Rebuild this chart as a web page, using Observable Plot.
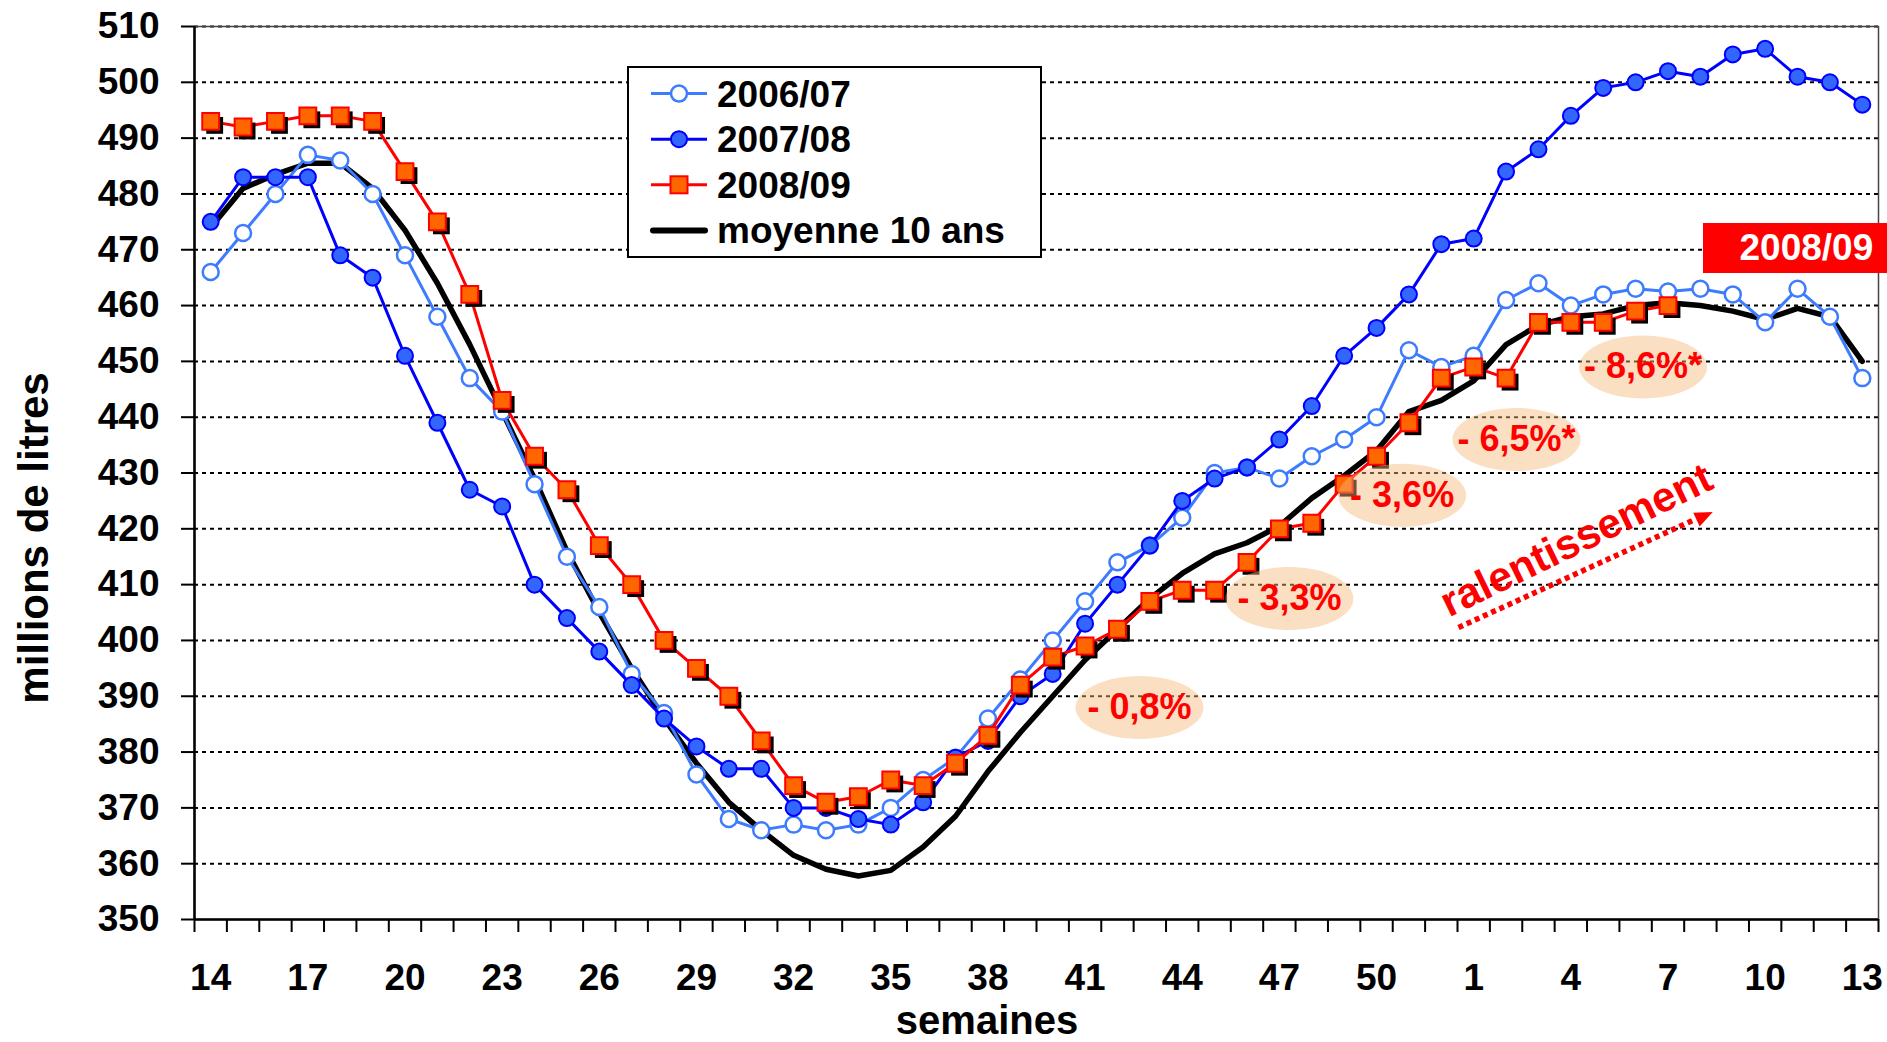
<!DOCTYPE html>
<html>
<head>
<meta charset="utf-8">
<script src="https://cdn.jsdelivr.net/npm/d3@7"></script>
<script src="https://cdn.jsdelivr.net/npm/@observablehq/plot@0.6"></script>
<style>
html, body { margin: 0; padding: 0; background: #fff; overflow: hidden; }
#wrap { position: relative; width: 1887px; height: 1042px; font-family: 'Liberation Sans', Arial, sans-serif; font-weight: bold; }
#wrap svg text { font-weight: bold; }
.abs { position: absolute; white-space: nowrap; }
</style>
</head>
<body>
<div id="wrap"></div>
<script>
// ---- data ----
const weeks = [14,15,16,17,18,19,20,21,22,23,24,25,26,27,28,29,30,31,32,33,34,35,36,37,38,39,40,41,42,43,44,45,46,47,48,49,50,51,52,1,2,3,4,5,6,7,8,9,10,11,12,13];
const s0607 = [466,473,480,487,486,480,469,458,447,441,428,415,406,394,387,376,368,366,367,366,367,370,375,379,386,393,400,407,414,417,422,430,431,429,433,436,440,452,449,451,461,464,460,462,463,462.5,463,462,457,463,458,447];
const s0708 = [475,483,483,483,469,465,451,439,427,424,410,404,398,392,386,381,377,377,370,370,368,367,371,379,382,390,394,403,410,417,425,429,431,436,442,451,456,462,471,472,484,488,494,499,500,502,501,505,506,501,500,496];
const s0809 = [493,492,493,494,494,493,484,475,462,443,433,427,417,410,400,395,390,382,374,371,372,375,374,378,383,392,397,399,402,407,409,409,414,420,421,428,433,439,447,449,447,457,457,457,459,460,null,null,null,null,null,null];
const mean10 = [474,481,483.5,485.5,485.5,481,473.5,464,453,441,429,416,405,395,386,378,371,366,361.5,359,357.8,358.8,363,368.5,376.5,383.5,390,396.5,402,407.5,412,415.5,417.5,420.5,425.5,429.5,434,441,443,446.5,453,456.5,458,458.5,460,460.5,460,459,457.5,459.5,458,450];
const seriesNames = ["2006/07", "2007/08", "2008/09", "moyenne 10 ans"];
const yTicks = [350,360,370,380,390,400,410,420,430,440,450,460,470,480,490,500,510];
const xLabelStep = 3;

// annotations (in data coordinates: week index, volume)
const annotLabels = ["- 0,8%", "- 3,3%", "- 3,6%", "- 6,5%*", "- 8,6%*"];
const annotX = [28.68, 33.31, 36.79, 40.32, 44.23];
const annotY = [388, 407.5, 426, 436, 449];
const slowText = "ralentissement";
const slowX = [42.17];
const slowY = [417.9];
const arrowFrom = [38.53, 402.3];
const arrowTo = [45.8, 421.6];
const arrowHeadAt = [46.08, 422.2];

// ---- build ----
const C0607 = "#3d7bff", C0708 = "#0000ff", F0708 = "#3366ff", C0809 = "#ff0000", F0809 = "#ff6600";
const idx = d3.range(weeks.length);
const toRows = vals => idx.filter(i => vals[i] != null).map(i => ({i, v: vals[i]}));
const d0607 = toRows(s0607), d0708 = toRows(s0708), d0809 = toRows(s0809), dMean = toRows(mean10);
const annots = annotLabels.map((t, k) => ({t, x: annotX[k], y: annotY[k]}));
const labelIdx = idx.filter(i => i % xLabelStep === 0);

const ellipseSymbol = {
  draw(ctx) {
    const rx = 64, ry = 31.5, k = 0.5523;
    ctx.moveTo(rx, 0);
    ctx.bezierCurveTo(rx, ry * k, rx * k, ry, 0, ry);
    ctx.bezierCurveTo(-rx * k, ry, -rx, ry * k, -rx, 0);
    ctx.bezierCurveTo(-rx, -ry * k, -rx * k, -ry, 0, -ry);
    ctx.bezierCurveTo(rx * k, -ry, rx, -ry * k, rx, 0);
    ctx.closePath();
  }
};
const headSymbol = {
  draw(ctx) {
    const a = -25.3 * Math.PI / 180, L = 18, W = 7.5;
    const dx = Math.cos(a), dy = Math.sin(a), px = -dy, py = dx;
    ctx.moveTo(dx * L * 0.6, dy * L * 0.6);
    ctx.lineTo(-dx * L * 0.4 + px * W, -dy * L * 0.4 + py * W);
    ctx.lineTo(-dx * L * 0.4 - px * W, -dy * L * 0.4 - py * W);
    ctx.closePath();
  }
};

const plot = Plot.plot({
  width: 1887, height: 1042,
  marginTop: 26, marginRight: 9, marginBottom: 123, marginLeft: 194,
  style: {background: "transparent", fontFamily: "'Liberation Sans', Arial, sans-serif", overflow: "visible", color: "#000"},
  x: {domain: [-0.5, weeks.length - 0.5]},
  y: {domain: [350, 510]},
  marks: [
    Plot.gridY(yTicks.filter(v => v > 350), {stroke: "#000", strokeOpacity: 1, strokeWidth: 2, strokeDasharray: "4,4"}),
    Plot.frame({stroke: "#444", strokeWidth: 1.5}),
    Plot.ruleX([-0.5], {stroke: "#000", strokeWidth: 2.5}),
    Plot.ruleY([350], {stroke: "#000", strokeWidth: 2.5}),
    Plot.axisY(yTicks, {tickSize: 13, tickPadding: 22, fontSize: 37, fontWeight: "bold", strokeWidth: 2, label: null, tickFormat: d => String(d)}),
    Plot.axisX(labelIdx, {tickSize: 0, tickPadding: 44, fontSize: 37, fontWeight: "bold", label: null, tickFormat: i => String(weeks[i])}),
    Plot.axisX(d3.range(-0.5, weeks.length, 1), {tickSize: 13, strokeWidth: 2, label: null, tickFormat: () => ""}),
    // 10-year mean
    Plot.line(dMean, {x: "i", y: "v", stroke: "#000", strokeWidth: 5.5, strokeLinejoin: "round"}),
    // 2006/07
    Plot.line(d0607, {x: "i", y: "v", stroke: C0607, strokeWidth: 3}),
    Plot.dot(d0607, {x: "i", y: "v", r: 8, fill: "#fff", stroke: C0607, strokeWidth: 2.5}),
    // 2007/08
    Plot.line(d0708, {x: "i", y: "v", stroke: C0708, strokeWidth: 3}),
    Plot.dot(d0708, {x: "i", y: "v", r: 8, fill: F0708, stroke: C0708, strokeWidth: 2}),
    // 2008/09
    Plot.line(d0809, {x: "i", y: "v", stroke: C0809, strokeWidth: 3}),
    Plot.dot(d0809, {x: "i", y: "v", symbol: "square", r: 9.5, fill: "#000", stroke: "none", dx: 4, dy: 4}),
    Plot.dot(d0809, {x: "i", y: "v", symbol: "square", r: 9.5, fill: F0809, stroke: C0809, strokeWidth: 2}),
    // annotations
    Plot.dot(annots, {x: "x", y: "y", symbol: ellipseSymbol, r: 1, fill: "#f5b77a", fillOpacity: 0.45, stroke: "none"}),
    Plot.text(annots, {x: "x", y: "y", text: "t", fill: C0809, fontSize: 36, fontWeight: "bold"}),
    Plot.link([{x1: arrowFrom[0], y1: arrowFrom[1], x2: arrowTo[0], y2: arrowTo[1]}], {x1: "x1", y1: "y1", x2: "x2", y2: "y2", stroke: C0809, strokeWidth: 5.5, strokeDasharray: "5,4"}),
    Plot.dot([{x: arrowHeadAt[0], y: arrowHeadAt[1]}], {x: "x", y: "y", symbol: headSymbol, r: 1, fill: C0809, stroke: "none"}),
    Plot.text([{x: slowX[0], y: slowY[0]}], {x: "x", y: "y", text: () => slowText, rotate: -26, fontSize: 42, fontWeight: "bold", fill: C0809})
  ]
});

const wrap = document.getElementById("wrap");
wrap.appendChild(plot);

// axis titles
const yTitle = document.createElement("div");
yTitle.className = "abs";
yTitle.textContent = "millions de litres";
Object.assign(yTitle.style, {left: (34 - 250) + "px", top: (538 - 22) + "px", width: "500px", height: "44px", lineHeight: "44px", fontSize: "42px", textAlign: "center", transform: "rotate(-90deg)", transformOrigin: "50% 50%"});
wrap.appendChild(yTitle);

const xTitle = document.createElement("div");
xTitle.className = "abs";
xTitle.textContent = "semaines";
Object.assign(xTitle.style, {left: (987 - 200) + "px", top: "1000px", width: "400px", height: "40px", lineHeight: "40px", fontSize: "40px", textAlign: "center"});
wrap.appendChild(xTitle);

// legend
const legend = document.createElement("div");
legend.className = "abs";
Object.assign(legend.style, {left: "626.7px", top: "65.7px", width: "415px", height: "192.6px", border: "2px solid #000", boxSizing: "border-box", background: "#fff"});
const lsvg = d3.create("svg").attr("width", 411).attr("height", 189).style("display", "block");
seriesNames.forEach((name, k) => {
  const y = 25.6 + k * 45.6;
  const g = lsvg.append("g");
  if (k === 0) {
    g.append("line").attr("x1", 22).attr("x2", 78).attr("y1", y).attr("y2", y).attr("stroke", C0607).attr("stroke-width", 3);
    g.append("circle").attr("cx", 50).attr("cy", y).attr("r", 8).attr("fill", "#fff").attr("stroke", C0607).attr("stroke-width", 2.5);
  } else if (k === 1) {
    g.append("line").attr("x1", 22).attr("x2", 78).attr("y1", y).attr("y2", y).attr("stroke", C0708).attr("stroke-width", 3);
    g.append("circle").attr("cx", 50).attr("cy", y).attr("r", 8).attr("fill", F0708).attr("stroke", C0708).attr("stroke-width", 2);
  } else if (k === 2) {
    g.append("line").attr("x1", 22).attr("x2", 78).attr("y1", y).attr("y2", y).attr("stroke", C0809).attr("stroke-width", 3);
    g.append("rect").attr("x", 41.5).attr("y", y - 8.5).attr("width", 17).attr("height", 17).attr("fill", F0809).attr("stroke", C0809).attr("stroke-width", 2);
  } else {
    g.append("line").attr("x1", 24).attr("x2", 76).attr("y1", y).attr("y2", y).attr("stroke", "#000").attr("stroke-width", 6).attr("stroke-linecap", "round");
  }
  g.append("text").attr("x", 88).attr("y", y + 13).attr("font-size", 37).attr("font-weight", "bold")
    .attr("font-family", "'Liberation Sans', Arial, sans-serif").text(name);
});
legend.appendChild(lsvg.node());
wrap.appendChild(legend);

// red tag
const tag = document.createElement("div");
tag.className = "abs";
tag.textContent = seriesNames[2];
Object.assign(tag.style, {left: "1702.5px", top: "222.7px", width: "184.5px", height: "50.6px", lineHeight: "50.6px", background: "#ff0000", color: "#fff", fontSize: "37px", paddingLeft: "37px", boxSizing: "border-box"});
wrap.appendChild(tag);
</script>
</body>
</html>
